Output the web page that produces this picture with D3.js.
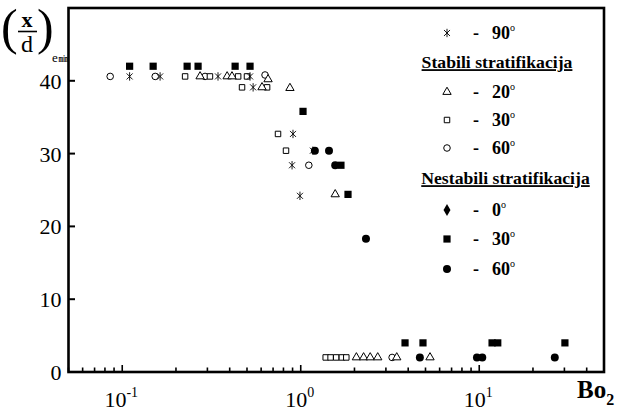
<!DOCTYPE html>
<html>
<head>
<meta charset="utf-8">
<script src="https://cdn.jsdelivr.net/npm/d3@7"></script>
<style>
  body { margin: 0; background: #fff; }
</style>
</head>
<body>
<svg id="chart" width="625" height="411"></svg>
<script>
// values (Bo2 on a log axis, (x/d)emin on the linear axis)
var star90_bo  = [0.110, 0.163, 0.344, 0.520, 0.541, 0.905, 0.894, 0.990, 1.17];
var star90_val = [40.6, 40.6, 40.6, 40.6, 39.1, 32.7, 28.4, 24.2, 30.4];

var tri20_bo  = [0.273, 0.387, 0.412, 0.656, 0.607, 0.870, 1.56, 2.05, 2.25, 2.45, 2.70, 3.45, 5.30];
var tri20_val = [40.6, 40.6, 40.6, 40.2, 39.1, 39.0, 24.4, 2, 2, 2, 2, 2, 2];

var sq30_bo  = [0.225, 0.310, 0.446, 0.500, 0.469, 0.648, 0.746, 0.827, 1.38, 1.47, 1.58, 1.70, 1.80];
var sq30_val = [40.6, 40.6, 40.6, 40.6, 39.1, 39.1, 32.7, 30.4, 2, 2, 2, 2, 2];

var circ60_bo  = [0.0856, 0.153, 0.291, 0.631, 1.11, 3.25];
var circ60_val = [40.6, 40.6, 40.6, 40.8, 28.4, 2];

var dia0_bo  = [];
var dia0_val = [];

var fsq30_bo  = [0.110, 0.149, 0.231, 0.266, 0.429, 0.520, 1.03, 1.68, 1.84, 3.84, 4.84, 11.8, 12.7, 30.2];
var fsq30_val = [42, 42, 42, 42, 42, 42, 35.8, 28.4, 24.4, 4, 4, 4, 4, 4];

var fcirc60_bo  = [1.20, 1.44, 1.56, 2.32, 4.65, 9.71, 10.4, 26.5];
var fcirc60_val = [30.4, 30.4, 28.4, 18.3, 2, 2, 2, 2];

var x_major = [0.1, 1, 10];
var x_major_exp = ["-1", "0", "1"];
var y_ticks = [0, 10, 20, 30, 40];

var legend_syms   = ["star", "head", "tri", "sq", "circ", "head", "dia", "fsq", "fcirc"];
var legend_labels = ["90", "Stabili stratifikacija", "20", "30", "60", "Nestabili stratifikacija", "0", "30", "60"];

var font = "'Liberation Serif', 'Times New Roman'";
var svg = d3.select("#chart");
var margin = {left: 68.5, right: 21, top: 8, bottom: 39};
var w_svg = 625, h_svg = 411;

var x = d3.scaleLog().domain([0.05, 50]).range([margin.left, w_svg - margin.right]);
var y = d3.scaleLinear().domain([0, 50]).range([h_svg - margin.bottom, margin.top]);

function zip(bo, val) {
  return bo.map(function(d, i) { return {bo: d, val: val[i]}; });
}

// text helper so every label gets the serif face
function txt(g, xpos, ypos, size) {
  return g.append("text")
          .attr("x", xpos)
          .attr("y", ypos)
          .attr("font-family", font)
          .style("font-size", size + "px");
}

// marker paths
function starPath(r) {
  var c = r * 0.72;
  return "M0," + (-r) + "L0," + r +
         "M" + (-c) + "," + (-c) + "L" + c + "," + c +
         "M" + (-c) + "," + c + "L" + c + "," + (-c);
}
var sym_tri = d3.symbol().type(d3.symbolTriangle).size(30)();
var sym_sq = d3.symbol().type(d3.symbolSquare).size(30)();
var sym_circ = d3.symbol().type(d3.symbolCircle).size(34)();
var sym_fsq = d3.symbol().type(d3.symbolSquare).size(52)();
var sym_fcirc = d3.symbol().type(d3.symbolCircle).size(50)();
var sym_dia = d3.symbol().type(d3.symbolDiamond).size(42)();

function markerStyle(sel, kind) {
  if (kind == "star") {
    sel.attr("d", starPath(4.2)).attr("fill", "none").attr("stroke", "#000").attr("stroke-width", 0.9);
  }
  else if (kind == "tri") {
    sel.attr("d", sym_tri).attr("fill", "#fff").attr("stroke", "#000").attr("stroke-width", 1);
  }
  else if (kind == "sq") {
    sel.attr("d", sym_sq).attr("fill", "#fff").attr("stroke", "#000").attr("stroke-width", 1);
  }
  else if (kind == "circ") {
    sel.attr("d", sym_circ).attr("fill", "#fff").attr("stroke", "#000").attr("stroke-width", 1);
  }
  else if (kind == "fsq") {
    sel.attr("d", sym_fsq).attr("fill", "#000");
  }
  else if (kind == "fcirc") {
    sel.attr("d", sym_fcirc).attr("fill", "#000");
  }
  else { sel.attr("d", sym_dia).attr("fill", "#000"); }
}

// axis ticks (inward)
var all_ticks = x.ticks();
svg.append("g").selectAll("line")
   .data(all_ticks)
   .enter().append("line")
   .attr("x1", function(d) { return x(d); })
   .attr("x2", function(d) { return x(d); })
   .attr("y1", y(0))
   .attr("y2", function(d) {
     var lg = Math.log10(d);
     return Math.abs(lg - Math.round(lg)) < 1e-9 ? y(0) - 7 : y(0) - 4.5;
   })
   .attr("stroke", "#000")
   .attr("stroke-width", 1.6);

svg.append("g").selectAll("line")
   .data(y_ticks)
   .enter().append("line")
   .attr("x1", margin.left)
   .attr("x2", margin.left + 6.5)
   .attr("y1", function(d) { return y(d); })
   .attr("y2", function(d) { return y(d); })
   .attr("stroke", "#000")
   .attr("stroke-width", 2);

// frame
svg.append("rect")
   .attr("x", margin.left)
   .attr("y", margin.top)
   .attr("width", x.range()[1] - margin.left)
   .attr("height", y(0) - margin.top)
   .attr("fill", "none")
   .attr("stroke", "#000")
   .attr("stroke-width", 2.6);

// tick labels
y_ticks.forEach(function(d) {
  txt(svg, margin.left - 7, y(d), 22)
     .attr("dy", "0.36em")
     .attr("text-anchor", "end")
     .text(d);
});

x_major.forEach(function(d, i) {
  var t = txt(svg, x(d) - 1, 407, 22).attr("text-anchor", "middle");
  t.append("tspan").text("10");
  t.append("tspan")
   .attr("dy", -10)
   .style("font-size", "14px")
   .text(x_major_exp[i]);
});

// axis titles
var bo = txt(svg, 577, 398, 25).style("font-weight", "bold");
bo.append("tspan").text("Bo");
bo.append("tspan").attr("dy", 7).style("font-size", "16px").text("2");

var yl = svg.append("g");
txt(yl, 1, 44, 50).text("(");
txt(yl, 27, 27, 22).attr("text-anchor", "middle").style("font-weight", "bold").text("x");
yl.append("line").attr("x1", 18).attr("x2", 37).attr("y1", 31.5).attr("y2", 31.5)
  .attr("stroke", "#000").attr("stroke-width", 1.6);
txt(yl, 27, 52, 24).attr("text-anchor", "middle").text("d");
txt(yl, 37, 44, 50).text(")");
txt(yl, 52, 62, 13).text("e");
txt(yl, 58.5, 62, 11).style("font-weight", "bold")
  .attr("textLength", 9.5).attr("lengthAdjust", "spacingAndGlyphs").text("min");

// points
var series = [
  {kind: "circ", data: zip(circ60_bo, circ60_val)},
  {kind: "sq", data: zip(sq30_bo, sq30_val)},
  {kind: "tri", data: zip(tri20_bo, tri20_val)},
  {kind: "star", data: zip(star90_bo, star90_val)},
  {kind: "dia", data: zip(dia0_bo, dia0_val)},
  {kind: "fsq", data: zip(fsq30_bo, fsq30_val)},
  {kind: "fcirc", data: zip(fcirc60_bo, fcirc60_val)}
];

series.forEach(function(s) {
  svg.append("g").selectAll("path")
     .data(s.data)
     .enter().append("path")
     .attr("transform", function(d) {
       return "translate(" + x(d.bo) + "," + y(d.val) + ")";
     })
     .call(markerStyle, s.kind);
});

// legend
var legend_y = [33, 62, 92, 120, 148, 178, 210, 239, 269];
var lg = svg.append("g");
legend_syms.forEach(function(k, i) {
  if (k == "head") {
    txt(lg, i == 1 ? 497 : 505.5, legend_y[i], 17.7)
      .attr("dy", "0.35em")
      .attr("text-anchor", "middle")
      .style("font-weight", "bold")
      .style("text-decoration", "underline")
      .text(legend_labels[i]);
  }
  else {
    lg.append("path")
      .attr("transform", "translate(447," + legend_y[i] + ")")
      .call(markerStyle, k);
    txt(lg, 476, legend_y[i], 18)
      .attr("dy", "0.35em")
      .attr("text-anchor", "middle")
      .style("font-weight", "bold")
      .text("-");
    var t = txt(lg, 492, legend_y[i], 18)
      .attr("dy", "0.35em")
      .style("font-weight", "bold");
    t.append("tspan").text(legend_labels[i]);
    t.append("tspan").attr("dy", -8).style("font-size", "10px").style("font-weight", "normal").text("o");
  }
});
</script>
</body>
</html>
